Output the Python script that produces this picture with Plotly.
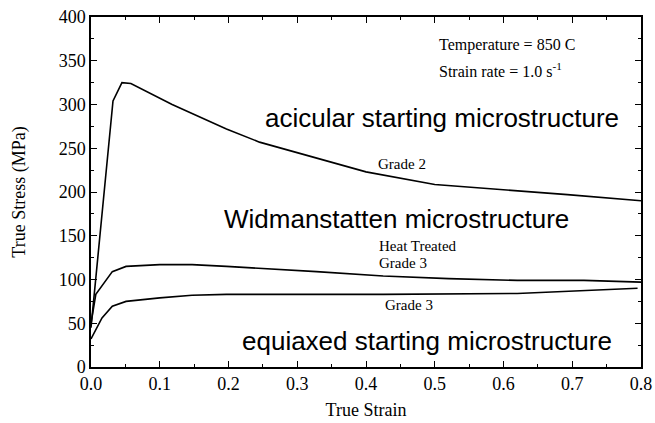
import plotly.graph_objects as go

# Grade 2 (acicular starting microstructure)
grade2_strain = [0.0, 0.032, 0.045, 0.058, 0.118, 0.197, 0.245, 0.304, 0.40, 0.50, 0.596, 0.693, 0.8]
grade2_stress = [45, 304, 325, 324, 300, 272, 257, 244, 223, 208.5, 203, 197, 190]

# Heat treated Grade 3 (Widmanstatten microstructure)
ht3_strain = [0.0, 0.007, 0.031, 0.051, 0.1, 0.147, 0.197, 0.245, 0.328, 0.425, 0.52, 0.62, 0.717, 0.8]
ht3_stress = [50, 83, 109, 115, 117, 117, 115, 113, 109, 104, 101, 99, 99, 97]

# Grade 3 (equiaxed starting microstructure)
g3_strain = [0.0, 0.016, 0.031, 0.051, 0.1, 0.147, 0.197, 0.245, 0.425, 0.62, 0.717, 0.795]
g3_stress = [32, 56, 69.5, 75, 79, 82, 83, 83, 83, 84, 87, 90]

serif = "Liberation Serif"
sans = "Liberation Sans"

fig = go.Figure()
for xs, ys in [(grade2_strain, grade2_stress), (ht3_strain, ht3_stress), (g3_strain, g3_stress)]:
    fig.add_trace(go.Scatter(x=xs, y=ys, mode='lines',
                             line=dict(color='black', width=1.6),
                             showlegend=False))

big = dict(family=sans, size=26, color='black')
small = dict(family=serif, size=15, color='black')
cond = dict(family=serif, size=16, color='black')
notes = [
    (0.503, 368, "Temperature = 850 C", cond, 'left'),
    (0.503, 340, "Strain rate = 1.0 s<sup>-1</sup>", cond, 'left'),
    (0.51, 285, "acicular starting microstructure", big, 'center'),
    (0.452, 232, "Grade 2", small, 'center'),
    (0.444, 169, "Widmanstatten microstructure", big, 'center'),
    (0.416, 138, "Heat Treated", small, 'left'),
    (0.416, 118.5, "Grade 3", small, 'left'),
    (0.462, 70.6, "Grade 3", small, 'center'),
    (0.488, 29.6, "equiaxed starting microstructure", big, 'center'),
]
for x, y, t, f, a in notes:
    fig.add_annotation(x=x, y=y, text=t, showarrow=False, font=f,
                       xanchor=a, yanchor='middle')

axis_common = dict(showline=True, linewidth=1.5, linecolor='black', mirror='allticks',
                   ticks='inside', ticklen=6, tickcolor='black', showgrid=False,
                   zeroline=False, automargin=False, ticklabeloverflow='allow',
                   tickfont=dict(family=serif, size=18, color='black'))

fig.update_layout(
    width=655, height=423,
    margin=dict(l=91, r=14, t=17, b=56),
    plot_bgcolor='white', paper_bgcolor='white',
    xaxis=dict(title=dict(text='True Strain', font=dict(family=serif, size=18, color='black'), standoff=10),
               range=[0, 0.8], dtick=0.1, tickformat='.1f',
               minor=dict(dtick=0.05, ticks='inside', ticklen=3, tickcolor='black'),
               **axis_common),
    yaxis=dict(title=dict(text='True Stress (MPa)', font=dict(family=serif, size=18, color='black'), standoff=28),
               range=[0, 400], dtick=50,
               minor=dict(dtick=25, ticks='inside', ticklen=3, tickcolor='black'),
               **axis_common),
)

# drop the default body margin so the figure sits at the window corner
fig.write_html("out.html", config={'displayModeBar': False},
               post_script="document.body.style.margin='0';")
